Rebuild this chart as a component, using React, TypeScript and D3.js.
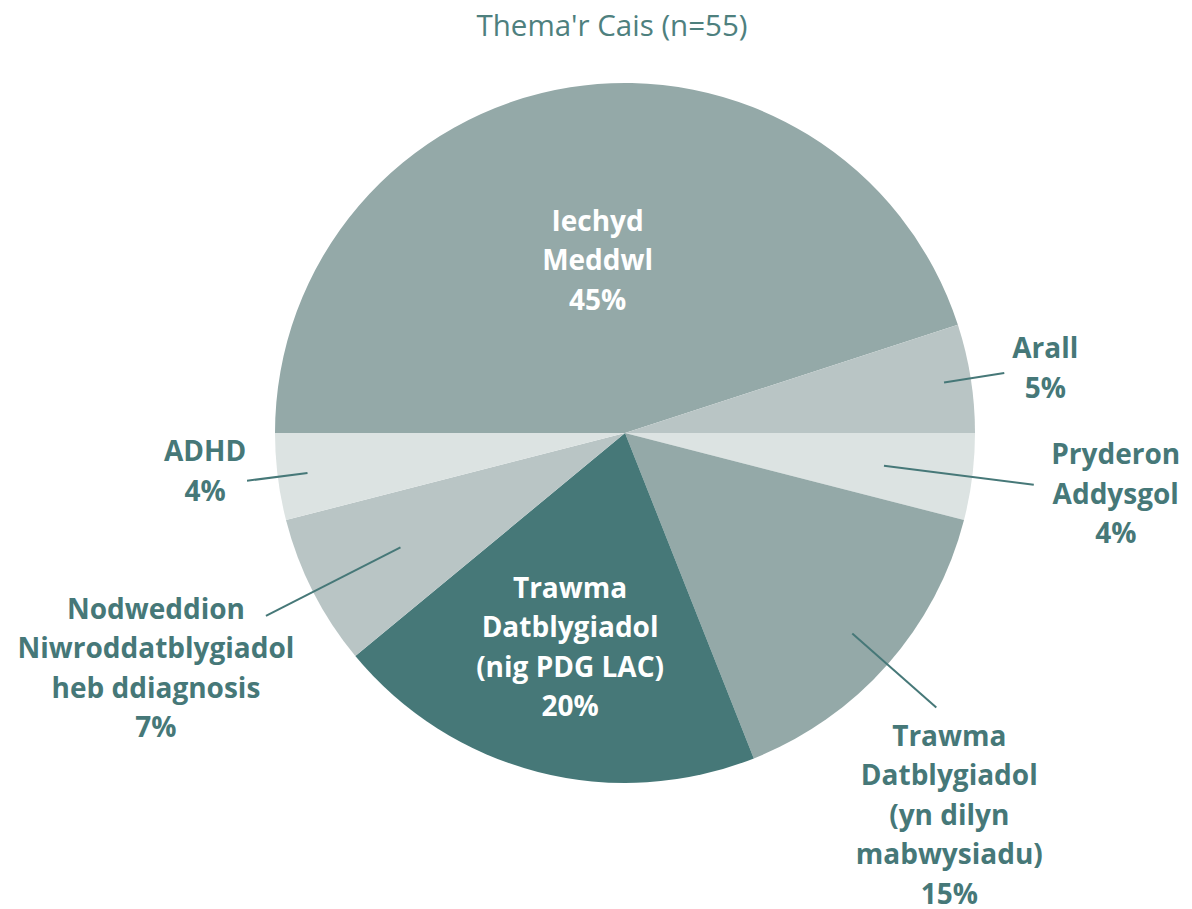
import React from "react";
import * as d3 from "d3";

// Slice data, clockwise from 9 o'clock
const categories = [
  "Iechyd Meddwl",
  "Arall",
  "Pryderon Addysgol",
  "Trawma Datblygiadol (yn dilyn mabwysiadu)",
  "Trawma Datblygiadol (nig PDG LAC)",
  "Nodweddion Niwroddatblygiadol heb ddiagnosis",
  "ADHD",
];
const values = [45, 5, 4, 15, 20, 7, 4];
const labelLines = [
  ["Iechyd", "Meddwl"],
  ["Arall"],
  ["Pryderon", "Addysgol"],
  ["Trawma", "Datblygiadol", "(yn dilyn", "mabwysiadu)"],
  ["Trawma", "Datblygiadol", "(nig PDG LAC)"],
  ["Nodweddion", "Niwroddatblygiadol", "heb ddiagnosis"],
  ["ADHD"],
];
const colors = ["#94a9a8", "#b9c5c5", "#dce3e2", "#94a9a8", "#467878", "#b9c5c5", "#dce3e2"];

// label layout: inside labels use r, outside use leader line inner/outer radius + text offset
const layout = [
  { inside: true, r: 175 },
  { inside: false, inner: 323, outer: 384, dx: 41, dy: -5 },
  { inside: false, inner: 261, outer: 412, dx: 82, dy: 9 },
  { inside: false, inner: 303, outer: 415, dx: 13, dy: 107 },
  { inside: true, r: 221 },
  { inside: false, inner: 252, outer: 403, dx: -110, dy: 52 },
  { inside: false, inner: 320, outer: 381, dx: -42, dy: -10 },
];

const title = "Thema'r Cais (n=55)";

const W = 1192;
const H = 909;
const cx = 625;
const cy = 433;
const R = 350;
const lineH = 39.5;
const teal = "#467878";

export default function App() {
  const pie = d3
    .pie<number>()
    .sort(null)
    .startAngle(-Math.PI / 2)
    .endAngle((3 * Math.PI) / 2);
  const arcs = pie(values);
  const arc = d3.arc<d3.PieArcDatum<number>>().innerRadius(0).outerRadius(R);

  const polar = (a: number, r: number) => [r * Math.sin(a), -r * Math.cos(a)];

  return (
    <svg
      width={W}
      height={H}
      style={{ position: "absolute", left: 0, top: 0, background: "#fff" }}
      fontFamily="'Open Sans', Lato, sans-serif"
    >
      <text x={612} y={36} textAnchor="middle" fontSize={29.5} fill="#4e807e" fontWeight={400}>
        {title}
      </text>
      <g transform={`translate(${cx},${cy})`}>
        {arcs.map((d, i) => (
          <path key={categories[i]} d={arc(d) as string} fill={colors[i]} />
        ))}
        {arcs.map((d, i) => {
          const mid = (d.startAngle + d.endAngle) / 2;
          const L = layout[i];
          const lines = [...labelLines[i], `${values[i]}%`];
          let tx: number, ty: number;
          let leader: React.ReactNode = null;
          if (L.inside) {
            [tx, ty] = polar(mid, L.r!);
          } else {
            const [x1, y1] = polar(mid, L.inner!);
            const [x2, y2] = polar(mid, L.outer!);
            leader = <line x1={x1} y1={y1} x2={x2} y2={y2} stroke={teal} strokeWidth={2} />;
            tx = x2 + L.dx!;
            ty = y2 + L.dy!;
          }
          return (
            <g key={"l" + i}>
              {leader}
              <text
                textAnchor="middle"
                fontSize={28}
                fontWeight={700}
                fill={L.inside ? "#fff" : teal}
              >
                {lines.map((t, j) => (
                  <tspan key={j} x={tx} y={ty + (j - (lines.length - 1) / 2) * lineH} dy="0.36em">
                    {t}
                  </tspan>
                ))}
              </text>
            </g>
          );
        })}
      </g>
    </svg>
  );
}
